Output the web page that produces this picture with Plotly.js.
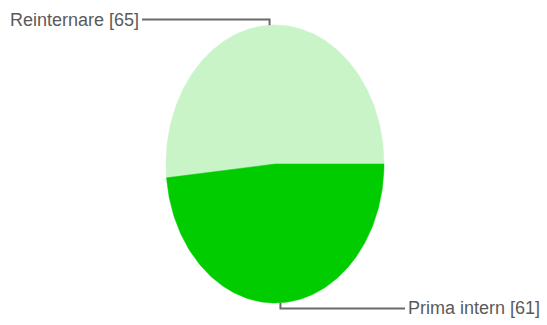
<!DOCTYPE html>
<html>
<head>
<meta charset="utf-8">
<script src="https://cdn.plot.ly/plotly-3.0.1.min.js"></script>
<style>html,body{margin:0;padding:0;background:#fff;}#chart{width:547px;height:325px;}</style>
</head>
<body>
<div id="chart"></div>
<script>
// Data
const labels = ['Reinternare', 'Prima intern'];
const values = [65, 61];
const colors = ['#c8f4c8', '#00cc00'];

// Geometry (style/layout)
const W = 547, H = 325;
const cx = 275, cy = 164, rx = 109, ry = 139;   // pixel ellipse
const leaderOut = 0.04;                          // leader vertical offset (unit)
const leaderEndX = [-1.22, 1.193];               // horizontal end of leader (unit)

const total = values.reduce((a, b) => a + b, 0);
const traces = [];
const shapes = [];
const annotations = [];
let start = 0; // start at 3 o'clock, counter-clockwise
values.forEach((v, i) => {
  const span = v / total * 2 * Math.PI;
  const end = start + span;
  const n = Math.max(8, Math.round(span / (2 * Math.PI) * 360));
  const xs = [0], ys = [0];
  for (let k = 0; k <= n; k++) {
    const a = start + span * k / n;
    xs.push(Math.cos(a));
    ys.push(Math.sin(a));
  }
  xs.push(0); ys.push(0);
  traces.push({
    type: 'scatter', x: xs, y: ys, mode: 'lines', fill: 'toself',
    fillcolor: colors[i], line: {color: colors[i], width: 0.5},
    name: labels[i], hoverinfo: 'name', showlegend: false
  });
  // leader line from mid-angle point
  const mid = start + span / 2;
  const px = Math.cos(mid), py = Math.sin(mid);
  const ly = py + (py >= 0 ? leaderOut : -leaderOut);
  const ex = leaderEndX[i];
  shapes.push({
    type: 'path', xref: 'x', yref: 'y',
    path: `M ${px} ${py} L ${px} ${ly} L ${ex} ${ly}`,
    line: {color: '#6a6a6a', width: 2}
  });
  annotations.push({
    xref: 'x', yref: 'y', x: ex, y: ly,
    xanchor: ex < 0 ? 'right' : 'left', yanchor: 'middle',
    xshift: ex < 0 ? -1 : 1,
    text: labels[i] + ' [' + v + ']', showarrow: false,
    font: {family: 'Liberation Sans, Arial, sans-serif', size: 18, color: '#5a5a5a'}
  });
  start = end;
});

const layout = {
  width: W, height: H,
  margin: {l: 0, r: 0, t: 0, b: 0},
  paper_bgcolor: '#ffffff', plot_bgcolor: '#ffffff',
  xaxis: {range: [-cx / rx, (W - cx) / rx], visible: false, fixedrange: true},
  yaxis: {range: [-(H - cy) / ry, cy / ry], visible: false, fixedrange: true},
  shapes: shapes,
  annotations: annotations,
  showlegend: false
};
Plotly.newPlot('chart', traces, layout, {displayModeBar: false, staticPlot: true});
</script>
</body>
</html>
